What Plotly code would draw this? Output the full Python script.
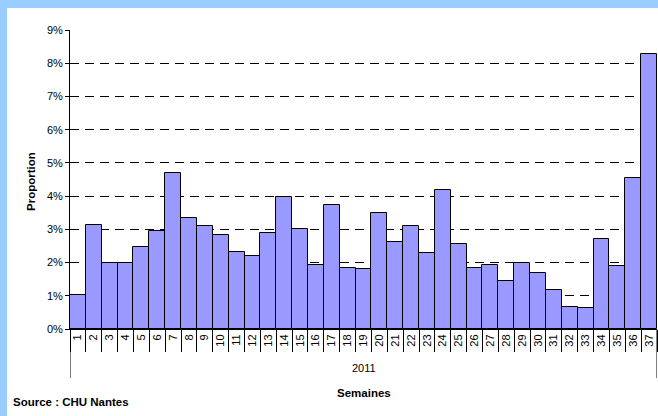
import plotly.graph_objects as go

weeks = [str(i) for i in range(1, 38)]
proportion = [1.01, 3.13, 1.98, 2.00, 2.48, 2.96, 4.69, 3.33, 3.09, 2.83,
              2.33, 2.20, 2.89, 3.98, 3.01, 1.93, 3.74, 1.85, 1.82, 3.50,
              2.63, 3.09, 2.30, 4.18, 2.57, 1.85, 1.92, 1.46, 2.00, 1.69,
              1.18, 0.66, 0.63, 2.72, 1.89, 4.56, 8.27]
y_ticks = list(range(0, 10))
y_tick_labels = [f"{v}%" for v in y_ticks]
year_label = "2011"

W, H = 658, 416
ML, MR, MT, MB = 70, 1, 30, 87
pw = W - ML - MR
ph = H - MT - MB

def px_x(x):
    return (x - ML) / pw

def px_y(y):
    return (H - MB - y) / ph

FONT = "Liberation Sans, Arial, sans-serif"

fig = go.Figure()
fig.add_trace(go.Bar(
    x=weeks, y=proportion,
    marker=dict(color="#9999FF", line=dict(color="#000000", width=1)),
    width=1.0,
))

shapes = [
    dict(type="rect", xref="paper", yref="paper",
         x0=px_x(7), x1=px_x(W + 5), y0=px_y(H + 5), y1=px_y(8),
         fillcolor="white", line=dict(width=0), layer="below"),
]
for xe in (-0.5, len(weeks) - 0.5):
    shapes.append(dict(type="line", xref="x", yref="paper",
                       x0=xe, x1=xe, y0=0, y1=px_y(378),
                       line=dict(color="#000000", width=1)))

annotations = [
    dict(text=year_label, xref="paper", yref="paper", x=0.5, y=px_y(368),
         xanchor="center", yanchor="middle", showarrow=False,
         font=dict(family=FONT, size=11, color="#000")),
    dict(text="<b>Semaines</b>", xref="paper", yref="paper", x=0.5, y=px_y(393),
         xanchor="center", yanchor="middle", showarrow=False,
         font=dict(family=FONT, size=11.5, color="#000")),
    dict(text="<b>Source : CHU Nantes</b>", xref="paper", yref="paper",
         x=px_x(11), y=px_y(402), xanchor="left", yanchor="middle",
         showarrow=False, font=dict(family=FONT, size=11.5, color="#000")),
    dict(text="<b>Proportion</b>", xref="paper", yref="paper",
         x=px_x(31), y=px_y(182), xanchor="center", yanchor="middle",
         textangle=-90, showarrow=False,
         font=dict(family=FONT, size=11.5, color="#000")),
]

fig.update_layout(
    width=W, height=H,
    margin=dict(l=ML, r=MR, t=MT, b=MB, pad=0),
    paper_bgcolor="#99CCFF",
    plot_bgcolor="rgba(0,0,0,0)",
    bargap=0,
    showlegend=False,
    shapes=shapes,
    annotations=annotations,
    font=dict(family=FONT, size=11, color="#000"),
    xaxis=dict(
        type="category",
        range=[-0.5, len(weeks) - 0.5],
        tickangle=-90,
        tickson="boundaries",
        ticks="outside", ticklen=22, tickcolor="#000", tickwidth=1,
        ticklabelstandoff=0,
        showline=True, linecolor="#000", linewidth=1,
        showgrid=False, zeroline=False,
        tickfont=dict(family=FONT, size=11, color="#000"),
        fixedrange=True,
    ),
    yaxis=dict(
        range=[0, 9],
        tickvals=y_ticks, ticktext=y_tick_labels,
        ticks="outside", ticklen=4, tickcolor="#000",
        showline=True, linecolor="#000", linewidth=1,
        showgrid=True, gridcolor="#000000", gridwidth=1, griddash="9px,6px",
        zeroline=False,
        tickfont=dict(family=FONT, size=11, color="#000"),
        fixedrange=True,
    ),
)

fig.write_html("out.html", config={"displayModeBar": False},
               post_script="document.body.style.margin='0';")
